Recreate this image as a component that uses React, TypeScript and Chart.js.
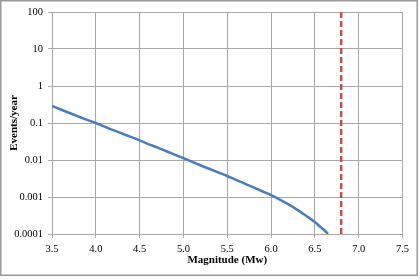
import { useEffect, useRef } from "react";
import { Chart, registerables } from "chart.js";

Chart.register(...registerables);

const magnitudes = [3.5, 3.6, 3.7, 3.8, 3.9, 4.0, 4.1, 4.2, 4.3, 4.4, 4.5, 4.6, 4.7, 4.8, 4.9, 5.0, 5.1, 5.2, 5.3, 5.4, 5.5, 5.6, 5.7, 5.8, 5.9, 6.0, 6.1, 6.2, 6.3, 6.4, 6.5, 6.55, 6.6, 6.65];
const eventsPerYear = [0.29, 0.232, 0.186, 0.15, 0.122, 0.1, 0.08, 0.064, 0.052, 0.042, 0.034, 0.027, 0.022, 0.0175, 0.014, 0.0112, 0.0089, 0.0071, 0.0057, 0.0046, 0.0037, 0.0029, 0.0023, 0.00182, 0.00143, 0.00112, 0.00085, 0.00063, 0.00045, 0.00031, 0.00021, 0.000165, 0.000132, 0.0001];
const maxMagnitude = 6.8;
const xTicks = [3.5, 4.0, 4.5, 5.0, 5.5, 6.0, 6.5, 7.0, 7.5];
const yTicks = [0.0001, 0.001, 0.01, 0.1, 1, 10, 100];
const yTickLabels = ["0.0001", "0.001", "0.01", "0.1", "1", "10", "100"];

const FONT = "'Liberation Serif', 'Times New Roman', serif";
const GRID = "#a8a8a8";

const borderPlugin = {
  id: "outerBorder",
  afterDraw(chart: any) {
    const ctx = chart.ctx;
    ctx.save();
    ctx.strokeStyle = "#9a9a9a";
    ctx.lineWidth = 1.5;
    ctx.strokeRect(0.75, 0.75, 416.5, 274.5);
    ctx.restore();
  },
};

export default function App() {
  const ref = useRef<HTMLCanvasElement>(null);
  useEffect(() => {
    document.body.style.margin = "0";
    const canvas = ref.current!;
    const chart = new Chart(canvas, {
      type: "line",
      data: {
        datasets: [
          {
            data: magnitudes.map((m, i) => ({ x: m, y: eventsPerYear[i] })),
            borderColor: "#4a7ebb",
            borderWidth: 2.5,
            pointRadius: 0,
            cubicInterpolationMode: "monotone",
          },
          {
            data: [
              { x: maxMagnitude, y: yTicks[0] },
              { x: maxMagnitude, y: yTicks[yTicks.length - 1] },
            ],
            borderColor: "#c0504d",
            borderWidth: 2.5,
            borderDash: [6, 3],
            pointRadius: 0,
          },
        ],
      },
      options: {
        animation: false,
        responsive: false,
        layout: { padding: { left: 0, right: 17.5, top: 12, bottom: 0 } },
        plugins: { legend: { display: false }, tooltip: { enabled: false } },
        scales: {
          x: {
            type: "linear",
            min: xTicks[0],
            max: xTicks[xTicks.length - 1],
            afterBuildTicks: (s: any) => {
              s.ticks = xTicks.map((v) => ({ value: v }));
            },
            afterFit: (s: any) => {
              s.height = 46;
            },
            ticks: {
              color: "#000",
              font: { family: FONT, size: 10.5 },
              padding: 5,
              maxRotation: 0,
              callback: (v: any) => Number(v).toFixed(1),
            },
            grid: { color: GRID, tickLength: 4, lineWidth: 1 },
            border: { color: GRID },
            title: {
              display: true,
              text: "Magnitude (Mw)",
              color: "#000",
              font: { family: FONT, size: 11, weight: "bold" },
              padding: { top: 0, bottom: 13 },
            },
          },
          y: {
            type: "logarithmic",
            min: yTicks[0],
            max: yTicks[yTicks.length - 1],
            afterBuildTicks: (s: any) => {
              s.ticks = yTicks.map((v) => ({ value: v }));
            },
            afterFit: (s: any) => {
              s.width = 52;
            },
            ticks: {
              color: "#000",
              font: { family: FONT, size: 10.5 },
              padding: 5,
              callback: (v: any) => {
                const i = yTicks.findIndex((t) => Math.abs(t - v) / t < 1e-6);
                return i >= 0 ? yTickLabels[i] : "";
              },
            },
            grid: { color: GRID, tickLength: 4, lineWidth: 1 },
            border: { color: GRID },
            title: {
              display: true,
              text: "Events/year",
              color: "#000",
              font: { family: FONT, size: 11, weight: "bold" },
              padding: { top: 8, bottom: 0 },
            },
          },
        },
      },
      plugins: [borderPlugin],
    } as any);
    return () => chart.destroy();
  }, []);
  return (
    <div style={{ width: 420, height: 280 }}>
      <canvas ref={ref} width={420} height={280} />
    </div>
  );
}
